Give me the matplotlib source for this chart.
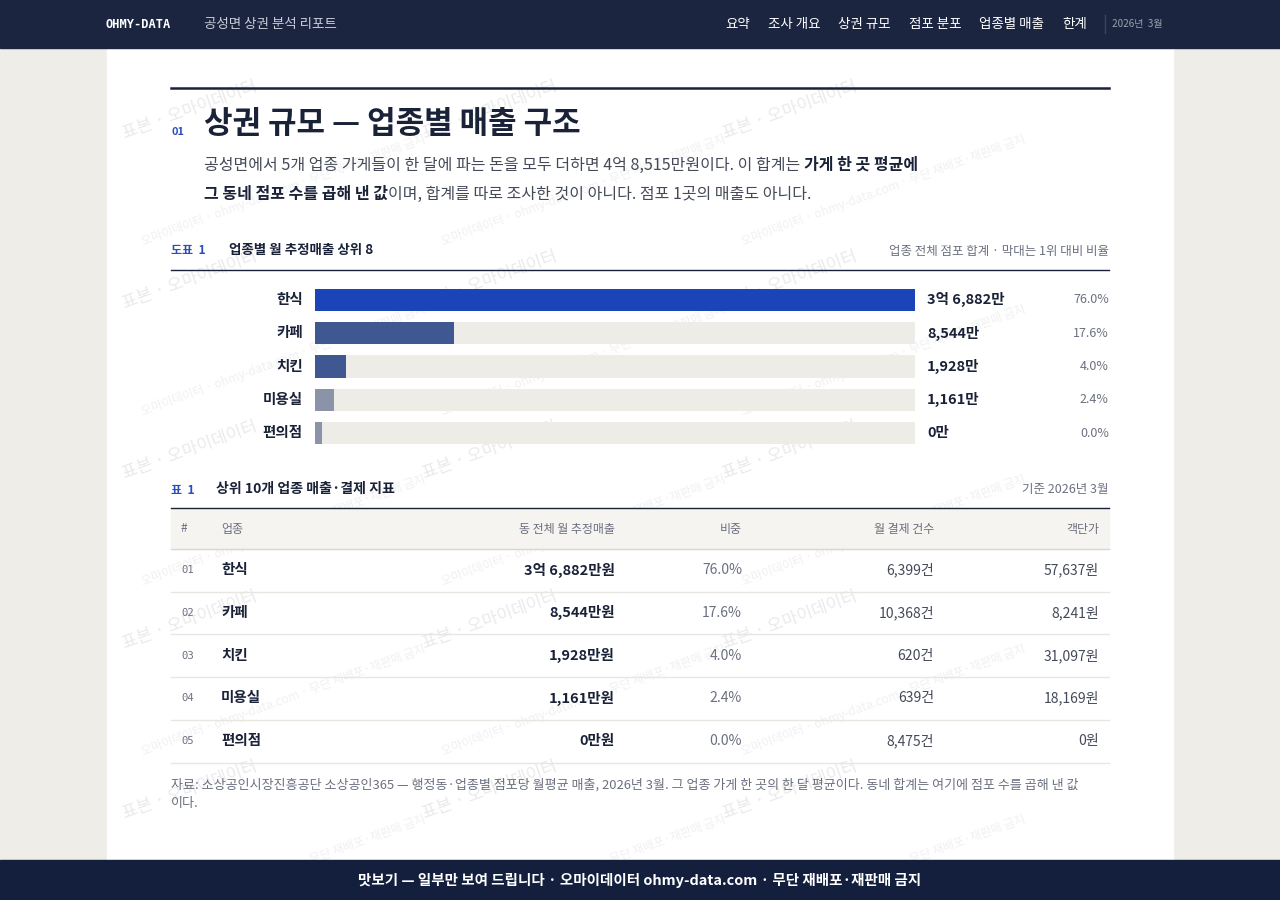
import matplotlib.pyplot as plt
from matplotlib.patches import Rectangle

plt.rcParams['font.family'] = ['Noto Sans CJK KR', 'DejaVu Sans']

# Data
categories = ['한식', '카페', '치킨', '미용실', '편의점']
sales_man = [36882, 8544, 1928, 1161, 0]  # 만원
sales_labels = ['3억 6,882만', '8,544만', '1,928만', '1,161만', '0만']
share_labels = ['76.0%', '17.6%', '4.0%', '2.4%', '0.0%']
table_sales = ['3억 6,882만원', '8,544만원', '1,928만원', '1,161만원', '0만원']
table_counts = ['6,399건', '10,368건', '620건', '639건', '8,475건']
table_price = ['57,637원', '8,241원', '31,097원', '18,169원', '0원']
bar_colors = ['#1b44b8', '#3f5891', '#3f5891', '#8a93a8', '#8a93a8']
nav_items = ['요약', '조사 개요', '상권 규모', '점포 분포', '업종별 매출', '한계']

NAVY = '#1b2540'
DARK = '#1a2238'
GREY = '#6b7080'
BODY = '#444a58'

fig = plt.figure(figsize=(12.8, 9), dpi=100)
fig.patch.set_facecolor('#efede8')
ax = fig.add_axes([0, 0, 1, 1])
ax.set_xlim(0, 1280)
ax.set_ylim(900, 0)
ax.axis('off')
renderer = fig.canvas.get_renderer()

def pt(px):
    return px * 0.72

def right_edge(t):
    bb = t.get_window_extent(renderer)
    return ax.transData.inverted().transform((bb.x1, bb.y0))[0]

def left_edge(t):
    bb = t.get_window_extent(renderer)
    return ax.transData.inverted().transform((bb.x0, bb.y0))[0]

def inline(x, y, parts, size):
    # parts: list of (text, bold)
    for txt, bold in parts:
        t = ax.text(x, y, txt, color=DARK if bold else BODY, fontsize=pt(size),
                    fontweight='bold' if bold else 'normal', va='center')
        x = right_edge(t)

# page panel, header, footer
ax.add_patch(Rectangle((107, 48), 1066, 812, color='white', zorder=0))
ax.add_patch(Rectangle((0, 0), 1280, 48, color=NAVY, zorder=1))
ax.add_patch(Rectangle((0, 860), 1280, 40, color='#131f3d', zorder=1))

# watermarks (kept inside the page)
for wy in range(110, 800, 170):
    for wx in range(120, 1000, 300):
        ax.text(wx, wy, '표본 · 오마이데이터', rotation=20, fontsize=pt(17), color='#dcdcdc',
                alpha=0.6, zorder=0.5, ha='left', va='center')
        ax.text(wx + 20, wy + 80, '오마이데이터 · ohmy-data.com · 무단 재배포·재판매 금지', rotation=20,
                fontsize=pt(12), color='#e2e2e2', alpha=0.5, zorder=0.5, ha='left', va='center')

ax.text(106, 24, 'OHMY-DATA', color='white', fontsize=pt(12), fontweight='bold',
        family='DejaVu Sans Mono', va='center', zorder=2)
ax.text(204, 24, '공성면 상권 분석 리포트', color='#c8cdd8', fontsize=pt(13.5), va='center', zorder=2)
x = 1087
for t in reversed(nav_items):
    tt = ax.text(x, 24, t, color='white', fontsize=pt(13.5), va='center', ha='right', zorder=2)
    x = left_edge(tt) - 18
ax.plot([1105, 1105], [15, 33], color='#3a4560', lw=1, zorder=2)
ax.text(1112, 24, '2026년  3월', color='#9aa0b0', fontsize=pt(10), va='center', zorder=2)

ax.text(640, 880, '맛보기 — 일부만 보여 드립니다 · 오마이데이터 ohmy-data.com · 무단 재배포·재판매 금지',
        color='white', fontsize=pt(14.5), fontweight='bold', ha='center', va='center', zorder=2)

# section title
ax.plot([171, 1109], [88, 88], color=DARK, lw=1.8)
ax.text(171, 132, '01', color='#2a4fb8', fontsize=pt(11), fontweight='bold', va='center')
ax.text(204, 124, '상권 규모 — 업종별 매출 구조', color=DARK, fontsize=pt(31), fontweight='bold', va='center')
inline(204, 165, [('공성면에서 5개 업종 가게들이 한 달에 파는 돈을 모두 더하면 4억 8,515만원이다. 이 합계는 ', False),
                  ('가게 한 곳 평균에', True)], 16)
inline(204, 194, [('그 동네 점포 수를 곱해 낸 값', True),
                  ('이며, 합계를 따로 조사한 것이 아니다. 점포 1곳의 매출도 아니다.', False)], 16)

# figure 1 header
ax.text(171, 251, '도표  1', color='#2a4fb8', fontsize=pt(12), fontweight='bold', va='center')
ax.text(229, 250, '업종별 월 추정매출 상위 8', color=DARK, fontsize=pt(13.5), fontweight='bold', va='center')
ax.text(1109, 251, '업종 전체 점포 합계 · 막대는 1위 대비 비율', color=GREY, fontsize=pt(12.5),
        ha='right', va='center')
ax.plot([171, 1109], [270, 270], color=DARK, lw=1)

# bars (own axes)
bax = fig.add_axes([315 / 1280, 1 - 450 / 900, 600 / 1280, 167 / 900])
bax.set_xlim(0, sales_man[0])
bax.set_ylim(len(categories) - 0.5, -0.5)
bax.axis('off')
ypos = list(range(len(categories)))
bax.barh(ypos, [sales_man[0]] * len(categories), height=0.67, color='#eeece6')
shown = [max(v, sales_man[0] * 0.011) for v in sales_man]
bax.barh(ypos, shown, height=0.67, color=bar_colors)
for i, c in enumerate(categories):
    bax.text(-0.02, i, c, transform=bax.get_yaxis_transform(), ha='right', va='center',
             fontsize=pt(14.5), fontweight='bold', color=DARK)
    bax.text(1.02, i, sales_labels[i], transform=bax.get_yaxis_transform(), ha='left', va='center',
             fontsize=pt(14.5), fontweight='bold', color=DARK)
    bax.text(1.323, i, share_labels[i], transform=bax.get_yaxis_transform(), ha='right', va='center',
             fontsize=pt(12.5), color=GREY)

# table header
ax.text(171, 490, '표  1', color='#2a4fb8', fontsize=pt(12), fontweight='bold', va='center')
ax.text(216, 489, '상위 10개 업종 매출·결제 지표', color=DARK, fontsize=pt(14), fontweight='bold', va='center')
ax.text(1109, 489, '기준 2026년 3월', color=GREY, fontsize=pt(12.5), ha='right', va='center')
ax.plot([171, 1109], [508, 508], color=DARK, lw=1)
ax.add_patch(Rectangle((171, 509), 938, 40, color='#f5f4f0', zorder=0.8))
ax.plot([171, 1109], [549, 549], color='#d8d6d0', lw=1)
hy = 529
ax.text(181, hy, '#', color=GREY, fontsize=pt(12), va='center')
ax.text(221, hy, '업종', color=GREY, fontsize=pt(12), va='center')
for x, t in zip([615, 742, 934, 1099], ['동 전체 월 추정매출', '비중', '월 결제 건수', '객단가']):
    ax.text(x, hy, t, color=GREY, fontsize=pt(12), va='center', ha='right')

for i, c in enumerate(categories):
    y = 570 + i * 42.8
    ax.text(181, y, f'{i + 1:02d}', color=GREY, fontsize=pt(10.5), family='DejaVu Sans Mono', va='center')
    ax.text(221, y, c, color=DARK, fontsize=pt(14.5), fontweight='bold', va='center')
    ax.text(615, y, table_sales[i], color=DARK, fontsize=pt(14.5), fontweight='bold', va='center', ha='right')
    ax.text(742, y, share_labels[i], color=GREY, fontsize=pt(14), va='center', ha='right')
    ax.text(934, y, table_counts[i], color=BODY, fontsize=pt(14), va='center', ha='right')
    ax.text(1099, y, table_price[i], color=BODY, fontsize=pt(14), va='center', ha='right')
    ax.plot([171, 1109], [y + 21.5, y + 21.5], color='#e8e6e0', lw=1)

ax.text(171, 785, '자료: 소상공인시장진흥공단 소상공인365 — 행정동·업종별 점포당 월평균 매출, 2026년 3월. 그 업종 가게 한 곳의 한 달 평균이다. 동네 합계는 여기에 점포 수를 곱해 낸 값',
        color=GREY, fontsize=pt(13), va='center')
ax.text(171, 803, '이다.', color=GREY, fontsize=pt(13), va='center')

fig.savefig('out.png', dpi=100, facecolor=fig.get_facecolor())
